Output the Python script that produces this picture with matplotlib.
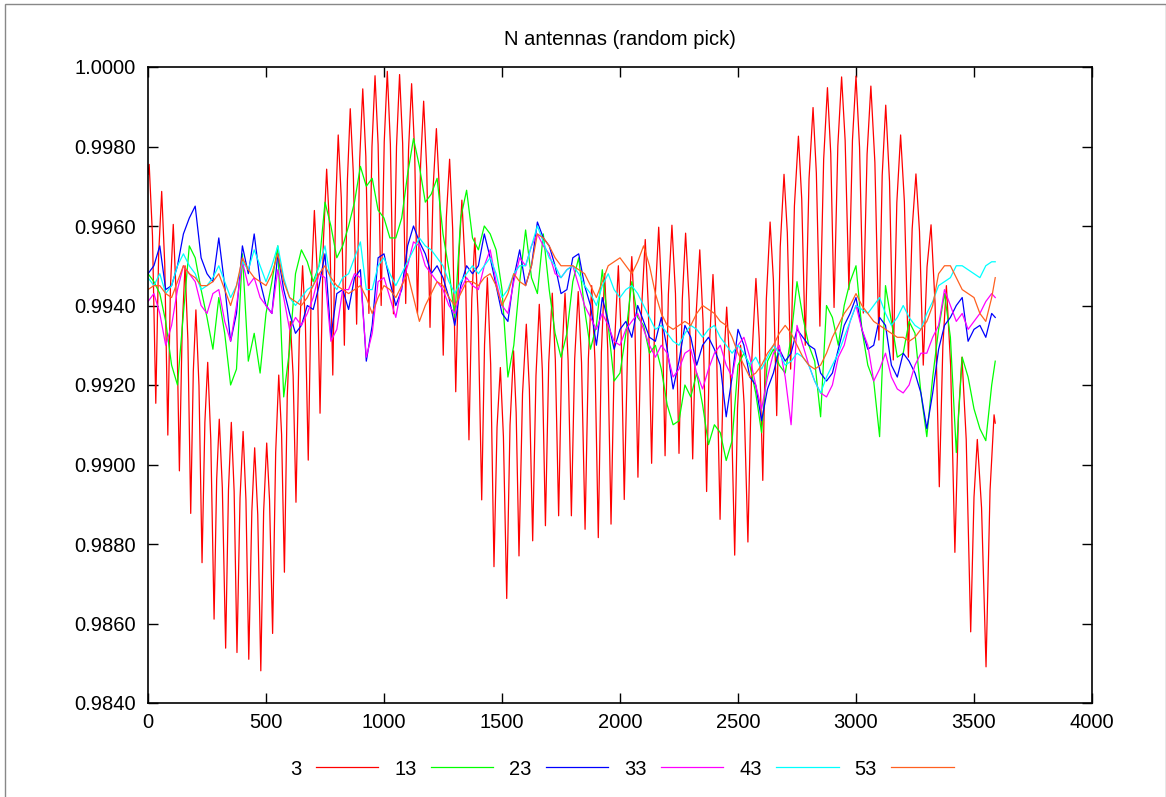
import numpy as np
import matplotlib
matplotlib.use('Agg')
import matplotlib.pyplot as plt
from matplotlib.patches import Rectangle

plt.rcParams['font.family'] = ['Liberation Sans', 'DejaVu Sans']

#title / legend
title = 'N antennas (random pick)'
labels = ['3', '13', '23', '33', '43', '53']
colors = ['#ff0000', '#00ff00', '#0000ff', '#ff00ff', '#00ffff', '#ff6020']

#N=3 : peaks and troughs of the oscillation, in order
red_x = [0, 5, 33, 58, 84, 107, 133, 157, 181, 203, 229, 253, 280, 302, 329, 353, 377, 403, 427,
         452, 478, 503, 528, 554, 578, 603, 627, 655, 679, 705, 729, 757, 783, 806, 832, 857, 884,
         910, 936, 962, 988, 1014, 1040, 1066, 1092, 1117, 1142, 1168, 1195, 1222, 1251, 1278,
         1304, 1330, 1360, 1385, 1414, 1438, 1466, 1493, 1520, 1549, 1572, 1603, 1630, 1658,
         1684, 1713, 1740, 1767, 1794, 1823, 1852, 1880, 1908, 1935, 1962, 1993, 2018, 2050,
         2076, 2107, 2134, 2164, 2191, 2220, 2250, 2278, 2308, 2338, 2367, 2394, 2424, 2452,
         2486, 2511, 2542, 2576, 2605, 2636, 2664, 2695, 2723, 2756, 2785, 2818, 2847, 2879,
         2907, 2939, 2970, 3000, 3031, 3063, 3097, 3126, 3158, 3189, 3222, 3254, 3285, 3318,
         3353, 3383, 3419, 3449, 3486, 3514, 3551, 3585, 3590]
red_y = [0.99730, 0.99755, 0.99154, 0.99687, 0.99074, 0.99604, 0.98984, 0.99500, 0.98877, 0.99389,
         0.98753, 0.99257, 0.98611, 0.99114, 0.98538, 0.99106, 0.98527, 0.99083, 0.98510, 0.99042,
         0.98481, 0.99054, 0.98575, 0.99225, 0.98729, 0.99360, 0.98905, 0.99500, 0.99011, 0.99639,
         0.99129, 0.99743, 0.99225, 0.99829, 0.99300, 0.99895, 0.99353, 0.99945, 0.99380, 0.99978,
         0.99400, 0.99989, 0.99379, 0.99981, 0.99405, 0.99958, 0.99380, 0.99914, 0.99345, 0.99845,
         0.99275, 0.99768, 0.99183, 0.99665, 0.99062, 0.99570, 0.98911, 0.99470, 0.98743, 0.99244,
         0.98663, 0.99286, 0.98770, 0.99353, 0.98808, 0.99403, 0.98846, 0.99431, 0.98871, 0.99431,
         0.98871, 0.99435, 0.98837, 0.99450, 0.98816, 0.99480, 0.98850, 0.99500, 0.98912, 0.99523,
         0.98968, 0.99566, 0.99003, 0.99597, 0.99022, 0.99602, 0.99028, 0.99582, 0.99014, 0.99540,
         0.98932, 0.99478, 0.98862, 0.99396, 0.98772, 0.99300, 0.98805, 0.99468, 0.98960, 0.99610,
         0.99123, 0.99730, 0.99240, 0.99826, 0.99300, 0.99898, 0.99348, 0.99948, 0.99395, 0.99975,
         0.99440, 0.99977, 0.99381, 0.99952, 0.99313, 0.99904, 0.99263, 0.99829, 0.99270, 0.99731,
         0.99250, 0.99603, 0.98944, 0.99450, 0.98779, 0.99270, 0.98579, 0.99063, 0.98491, 0.99125,
         0.99104]

#N=3 : points on the flanks, half way between a peak and a trough
red_mid_x = [19, 45, 71, 95, 120, 145, 169, 192, 216, 241, 266, 291, 315, 341, 365, 390, 415, 440,
             465, 490, 515, 541, 566, 590, 615, 641, 667, 692, 717, 743, 770, 795, 819, 845, 870,
             897, 923, 949, 975, 1001, 1027, 1053, 1079, 1104, 1130, 1155, 1181, 1208, 1236, 1264,
             1291, 1317, 1345, 1372, 1399, 1426, 1452, 1479, 1506, 1534, 1560, 1587, 1616, 1644,
             1671, 1698, 1726, 1753, 1780, 1808, 1837, 1866, 1894, 1921, 1948, 1977, 2005, 2034,
             2063, 2091, 2120, 2149, 2177, 2205, 2235, 2264, 2293, 2323, 2352, 2380, 2409, 2438,
             2469, 2498, 2526, 2559, 2590, 2620, 2650, 2679, 2709, 2739, 2770, 2801, 2832, 2863,
             2893, 2923, 2954, 2985, 3015, 3047, 3080, 3111, 3142, 3173, 3205, 3238, 3269, 3301,
             3335, 3368, 3401, 3434, 3467, 3500, 3532, 3568]
red_mid_y = [0.99575, 0.99527, 0.99503, 0.99445, 0.99418, 0.99345, 0.99313, 0.99235, 0.99198,
             0.99106, 0.99063, 0.98963, 0.98941, 0.98936, 0.98932, 0.98916, 0.98911, 0.98882,
             0.98874, 0.98882, 0.98910, 0.99030, 0.99076, 0.99171, 0.99223, 0.99321, 0.99353,
             0.99451, 0.99486, 0.99559, 0.99588, 0.99648, 0.99670, 0.99716, 0.99732, 0.99767,
             0.99775, 0.99799, 0.99805, 0.99812, 0.99806, 0.99800, 0.99808, 0.99792, 0.99785,
             0.99754, 0.99743, 0.99695, 0.99674, 0.99620, 0.99592, 0.99520, 0.99484, 0.99418,
             0.99372, 0.99302, 0.99252, 0.99094, 0.99070, 0.99099, 0.99131, 0.99178, 0.99189,
             0.99224, 0.99236, 0.99255, 0.99263, 0.99263, 0.99263, 0.99266, 0.99256, 0.99266,
             0.99260, 0.99281, 0.99291, 0.99305, 0.99324, 0.99340, 0.99356, 0.99387, 0.99397,
             0.99419, 0.99424, 0.99428, 0.99430, 0.99416, 0.99412, 0.99382, 0.99358, 0.99314,
             0.99293, 0.99236, 0.99209, 0.99142, 0.99151, 0.99269, 0.99316, 0.99415, 0.99464,
             0.99548, 0.99583, 0.99650, 0.99668, 0.99719, 0.99733, 0.99768, 0.99782, 0.99801,
             0.99815, 0.99816, 0.99798, 0.99781, 0.99760, 0.99727, 0.99712, 0.99659, 0.99661,
             0.99593, 0.99587, 0.99497, 0.99405, 0.99298, 0.99249, 0.99123, 0.99063, 0.98918,
             0.98891, 0.98935]

#N=13..53 read every 25 (one row = 200), last one at 3590
xs = list(range(0, 3600, 25)) + [3590]

n13 = [0.9948, 0.9946, 0.9943, 0.9936, 0.9925, 0.9920, 0.9938, 0.9955,
       0.9952, 0.9944, 0.9937, 0.9929, 0.9942, 0.9933, 0.9920, 0.9924,
       0.9953, 0.9926, 0.9933, 0.9923, 0.9938, 0.9946, 0.9955, 0.9917,
       0.9929, 0.9948, 0.9954, 0.9951, 0.9946, 0.9950, 0.9966, 0.9960,
       0.9952, 0.9955, 0.9960, 0.9966, 0.9975, 0.9970, 0.9972, 0.9964,
       0.9962, 0.9957, 0.9957, 0.9962, 0.9973, 0.9982, 0.9975, 0.9966,
       0.9968, 0.9972, 0.9958, 0.9949, 0.9937, 0.9962, 0.9969, 0.9957,
       0.9954, 0.9960, 0.9958, 0.9954, 0.9944, 0.9922, 0.9930, 0.9946,
       0.9959, 0.9947, 0.9943, 0.9958, 0.9944, 0.9933, 0.9927, 0.9933,
       0.9946, 0.9952, 0.9939, 0.9929, 0.9935, 0.9949, 0.9935, 0.9921,
       0.9923, 0.9933, 0.9946, 0.9937, 0.9935, 0.9928, 0.9930, 0.9924,
       0.9915, 0.9910, 0.9911, 0.9920, 0.9917, 0.9923, 0.9915, 0.9905,
       0.9910, 0.9908, 0.9901, 0.9906, 0.9925, 0.9928, 0.9925, 0.9918,
       0.9908, 0.9926, 0.9929, 0.9925, 0.9923, 0.9932, 0.9946, 0.9937,
       0.9930, 0.9926, 0.9912, 0.9940, 0.9937, 0.9930, 0.9940, 0.9946,
       0.9950, 0.9934, 0.9925, 0.9921, 0.9907, 0.9945, 0.9936, 0.9927,
       0.9928, 0.9936, 0.9933, 0.9918, 0.9907, 0.9922, 0.9934, 0.9943,
       0.9932, 0.9903, 0.9927, 0.9922, 0.9914, 0.9909, 0.9906, 0.9920,
       0.9926]

n23 = [0.9948, 0.9950, 0.9955, 0.9944, 0.9945, 0.9950, 0.9958, 0.9962,
       0.9965, 0.9952, 0.9948, 0.9946, 0.9957, 0.9945, 0.9931, 0.9938,
       0.9955, 0.9948, 0.9958, 0.9946, 0.9940, 0.9938, 0.9953, 0.9944,
       0.9938, 0.9933, 0.9935, 0.9940, 0.9939, 0.9945, 0.9953, 0.9932,
       0.9943, 0.9944, 0.9939, 0.9947, 0.9949, 0.9926, 0.9935, 0.9952,
       0.9953, 0.9946, 0.9940, 0.9944, 0.9955, 0.9960, 0.9956, 0.9953,
       0.9948, 0.9950, 0.9947, 0.9942, 0.9935, 0.9945, 0.9950, 0.9948,
       0.9950, 0.9958, 0.9952, 0.9945, 0.9938, 0.9936, 0.9947, 0.9954,
       0.9945, 0.9950, 0.9961, 0.9957, 0.9955, 0.9950, 0.9943, 0.9944,
       0.9952, 0.9953, 0.9945, 0.9940, 0.9930, 0.9942, 0.9936, 0.9929,
       0.9934, 0.9936, 0.9932, 0.9940, 0.9936, 0.9932, 0.9931, 0.9937,
       0.9929, 0.9919, 0.9926, 0.9935, 0.9932, 0.9925, 0.9930, 0.9932,
       0.9929, 0.9925, 0.9912, 0.9922, 0.9934, 0.9930, 0.9922, 0.9920,
       0.9911, 0.9919, 0.9923, 0.9929, 0.9926, 0.9928, 0.9934, 0.9932,
       0.9930, 0.9929, 0.9923, 0.9921, 0.9923, 0.9929, 0.9935, 0.9938,
       0.9942, 0.9934, 0.9929, 0.9930, 0.9937, 0.9935, 0.9925, 0.9922,
       0.9928, 0.9926, 0.9923, 0.9918, 0.9909, 0.9918, 0.9929, 0.9935,
       0.9937, 0.9940, 0.9942, 0.9931, 0.9934, 0.9935, 0.9932, 0.9938,
       0.9937]

n33 = [0.9941, 0.9943, 0.9938, 0.9930, 0.9935, 0.9944, 0.9950, 0.9948,
       0.9946, 0.9940, 0.9938, 0.9943, 0.9944, 0.9936, 0.9931, 0.9940,
       0.9951, 0.9945, 0.9947, 0.9942, 0.9940, 0.9938, 0.9949, 0.9942,
       0.9934, 0.9937, 0.9935, 0.9938, 0.9942, 0.9948, 0.9947, 0.9931,
       0.9934, 0.9944, 0.9944, 0.9948, 0.9947, 0.9927, 0.9933, 0.9946,
       0.9947, 0.9942, 0.9937, 0.9945, 0.9950, 0.9956, 0.9955, 0.9950,
       0.9948, 0.9946, 0.9944, 0.9940, 0.9938, 0.9944, 0.9947, 0.9945,
       0.9944, 0.9950, 0.9954, 0.9946, 0.9940, 0.9938, 0.9946, 0.9952,
       0.9950, 0.9955, 0.9958, 0.9955, 0.9953, 0.9948, 0.9947, 0.9949,
       0.9950, 0.9945, 0.9940, 0.9937, 0.9934, 0.9938, 0.9935, 0.9931,
       0.9930, 0.9934, 0.9936, 0.9938, 0.9934, 0.9930, 0.9927, 0.9930,
       0.9928, 0.9922, 0.9924, 0.9928, 0.9929, 0.9923, 0.9919, 0.9924,
       0.9928, 0.9930, 0.9925, 0.9922, 0.9930, 0.9932, 0.9927, 0.9920,
       0.9914, 0.9922, 0.9928, 0.9930, 0.9922, 0.9910, 0.9935, 0.9930,
       0.9925, 0.9921, 0.9918, 0.9917, 0.9920, 0.9927, 0.9930, 0.9936,
       0.9940, 0.9934, 0.9930, 0.9921, 0.9924, 0.9928, 0.9922, 0.9919,
       0.9918, 0.9920, 0.9925, 0.9928, 0.9928, 0.9932, 0.9935, 0.9944,
       0.9940, 0.9936, 0.9938, 0.9934, 0.9936, 0.9938, 0.9941, 0.9943,
       0.9942]

n43 = [0.9947, 0.9945, 0.9948, 0.9943, 0.9945, 0.9950, 0.9953, 0.9950,
       0.9948, 0.9944, 0.9945, 0.9947, 0.9950, 0.9946, 0.9942, 0.9945,
       0.9951, 0.9949, 0.9954, 0.9950, 0.9946, 0.9950, 0.9955, 0.9947,
       0.9942, 0.9940, 0.9942, 0.9944, 0.9945, 0.9950, 0.9955, 0.9946,
       0.9944, 0.9947, 0.9948, 0.9952, 0.9956, 0.9944, 0.9944, 0.9950,
       0.9952, 0.9948, 0.9945, 0.9948, 0.9951, 0.9954, 0.9957, 0.9955,
       0.9954, 0.9952, 0.9950, 0.9946, 0.9943, 0.9946, 0.9948, 0.9950,
       0.9948, 0.9950, 0.9952, 0.9948, 0.9942, 0.9944, 0.9948, 0.9950,
       0.9950, 0.9955, 0.9960, 0.9956, 0.9952, 0.9950, 0.9947, 0.9949,
       0.9950, 0.9948, 0.9945, 0.9943, 0.9940, 0.9945, 0.9948, 0.9944,
       0.9942, 0.9944, 0.9945, 0.9943, 0.9940, 0.9937, 0.9934, 0.9935,
       0.9933, 0.9931, 0.9930, 0.9933, 0.9935, 0.9934, 0.9932, 0.9934,
       0.9935, 0.9932, 0.9930, 0.9928, 0.9930, 0.9928, 0.9925, 0.9927,
       0.9924, 0.9927, 0.9930, 0.9928, 0.9925, 0.9926, 0.9928, 0.9927,
       0.9925, 0.9921, 0.9918, 0.9922, 0.9925, 0.9928, 0.9932, 0.9936,
       0.9940, 0.9939, 0.9938, 0.9940, 0.9942, 0.9938, 0.9935, 0.9937,
       0.9940, 0.9937, 0.9935, 0.9934, 0.9938, 0.9941, 0.9945, 0.9946,
       0.9947, 0.9950, 0.9950, 0.9949, 0.9948, 0.9947, 0.9950, 0.9951,
       0.9951]

n53 = [0.9944, 0.9945, 0.9945, 0.9943, 0.9942, 0.9946, 0.9950, 0.9948,
       0.9947, 0.9945, 0.9945, 0.9946, 0.9948, 0.9944, 0.9940, 0.9945,
       0.9952, 0.9949, 0.9947, 0.9946, 0.9945, 0.9948, 0.9953, 0.9946,
       0.9942, 0.9941, 0.9940, 0.9942, 0.9945, 0.9948, 0.9950, 0.9947,
       0.9945, 0.9944, 0.9943, 0.9944, 0.9945, 0.9942, 0.9938, 0.9942,
       0.9945, 0.9944, 0.9942, 0.9945, 0.9948, 0.9942, 0.9936, 0.9940,
       0.9943, 0.9946, 0.9945, 0.9942, 0.9940, 0.9943, 0.9946, 0.9946,
       0.9945, 0.9947, 0.9948, 0.9945, 0.9940, 0.9943, 0.9948, 0.9946,
       0.9945, 0.9950, 0.9958, 0.9957, 0.9955, 0.9952, 0.9950, 0.9950,
       0.9950, 0.9949, 0.9948, 0.9945, 0.9942, 0.9946, 0.9950, 0.9951,
       0.9952, 0.9950, 0.9948, 0.9951, 0.9955, 0.9950, 0.9943, 0.9938,
       0.9935, 0.9934, 0.9935, 0.9936, 0.9935, 0.9938, 0.9940, 0.9939,
       0.9938, 0.9936, 0.9935, 0.9932, 0.9928, 0.9925, 0.9922, 0.9923,
       0.9925, 0.9928, 0.9930, 0.9933, 0.9935, 0.9933, 0.9930, 0.9927,
       0.9925, 0.9924, 0.9925, 0.9928, 0.9932, 0.9935, 0.9938, 0.9940,
       0.9943, 0.9940, 0.9938, 0.9936, 0.9935, 0.9934, 0.9933, 0.9932,
       0.9932, 0.9931, 0.9932, 0.9934, 0.9936, 0.9940, 0.9948, 0.9950,
       0.9950, 0.9947, 0.9944, 0.9943, 0.9942, 0.9938, 0.9936, 0.9942,
       0.9947]

#red: merge extrema and flank points along x
rx = np.array(red_x + red_mid_x)
ry = np.array(red_y + red_mid_y)
order = np.argsort(rx, kind='stable')

series = [(rx[order], ry[order]), (xs, n13), (xs, n23), (xs, n33), (xs, n43), (xs, n53)]

fig = plt.figure(figsize=(11.66, 7.97), dpi=100)
ax = fig.add_axes([148/1166, 1-703/797, (1092-148)/1166, (703-67)/797])

for (x, y), lab, col in zip(series, labels, colors):
    ax.plot(x, y, color=col, lw=0.9, label=lab)

ax.set_xlim(0, 4000)
ax.set_ylim(0.984, 1.0)
ax.set_xticks(np.arange(0, 4001, 500))
ax.set_yticks(np.arange(0.984, 1.00001, 0.002))
ax.yaxis.set_major_formatter(matplotlib.ticker.FormatStrFormatter('%.4f'))
ax.tick_params(direction='in', length=7, width=1, labelsize=14.5, top=True, right=True)
ax.tick_params(axis='y', pad=9)
ax.tick_params(axis='x', pad=7)
for s in ax.spines.values():
    s.set_linewidth(1.2)

ax.set_title(title, fontsize=14.5, pad=16)

ax.legend(loc='center', bbox_to_anchor=(0.5335, 0.0351), bbox_transform=fig.transFigure,
          ncol=6, frameon=False, markerfirst=False, fontsize=14.5, handlelength=3.1,
          handletextpad=0.7, columnspacing=0.8)

#outer frame
fig.patches.append(Rectangle((5/1166, -0.01), 1160.5/1166, 1.01-3.5/797, transform=fig.transFigure,
                             fill=False, edgecolor='#888888', lw=1))

fig.savefig('out.png', dpi=100)
